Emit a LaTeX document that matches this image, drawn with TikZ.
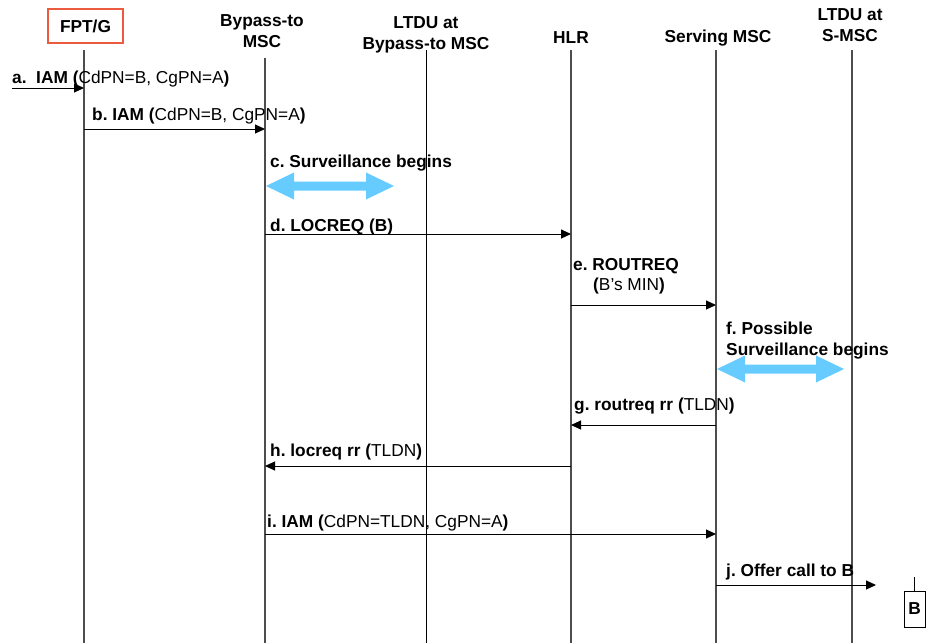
\documentclass[tikz,border=0pt]{standalone}
\usepackage{fontspec}
\setmainfont{Liberation Sans}
\usetikzlibrary{arrows.meta}
\definecolor{lifegray}{HTML}{4D4D4D}
\definecolor{boxred}{HTML}{EC5A40}
\definecolor{survblue}{HTML}{66CCFF}
% wide two-headed arrow marking the start of surveillance: #1 left tip x, #2 right tip x, #3 y
\newcommand\survspan[3]{%
  \fill[survblue] (#1,#3) -- (#1+28,#3-13.5) -- (#1+28,#3-4.5) -- (#2-28,#3-4.5)
    -- (#2-28,#3-13.5) -- (#2,#3) -- (#2-28,#3+13.5) -- (#2-28,#3+4.5)
    -- (#1+28,#3+4.5) -- (#1+28,#3+13.5) -- cycle;}
\frenchspacing
\begin{document}
\begin{tikzpicture}[x=1pt,y=-1pt,
  every node/.style={font=\fontsize{17.3}{21}\selectfont, inner sep=0pt},
  head/.style={font=\fontsize{17.3}{21}\selectfont\bfseries, align=center, anchor=base},
  lifeline/.style={draw=lifegray, line width=1.6pt},
  thinline/.style={draw=black, line width=1pt},
  msg/.style={draw=black, line width=1pt, -{Triangle[length=10pt,width=9pt]}},
  lbl/.style={anchor=base west}]
\useasboundingbox (0,0) rectangle (941,643);

% participants (multi-line heads are placed by the baseline of their last line)
\node[draw=boxred, line width=1.1pt, minimum width=75pt, minimum height=34pt,
      font=\fontsize{17.3}{21}\selectfont\bfseries] (hfpt) at (85.5,26) {FPT/G};
\node[head] (hbyp) at (262,47) {Bypass-to\\MSC};
\node[head] (hltb) at (426,49) {LTDU at\\Bypass-to MSC};
\node[head] (hhlr) at (571,43) {HLR};
\node[head] (hsrv) at (718,42) {Serving MSC};
\node[head] (hlts) at (850,41) {LTDU at\\S-MSC};

% lifelines
\coordinate (fpt) at (84,50);   \coordinate (fptE) at (84,643);
\coordinate (byp) at (265,58);  \coordinate (bypE) at (265,643);
\coordinate (ltb) at (426,50);  \coordinate (ltbE) at (426,643);
\coordinate (hlr) at (571,50);  \coordinate (hlrE) at (571,643);
\coordinate (srv) at (716,50);  \coordinate (srvE) at (716,643);
\coordinate (lts) at (852,50);  \coordinate (ltsE) at (852,643);
\draw[lifeline] (fpt) -- (fptE);
\draw[lifeline] (byp) -- (bypE);
\draw[thinline] (ltb) -- (ltbE);
\draw[lifeline] (hlr) -- (hlrE);
\draw[lifeline] (srv) -- (srvE);
\draw[lifeline] (lts) -- (ltsE);

% a. incoming call
\coordinate (aIn) at (12,88);
\draw[msg] (aIn) -- (fpt |- aIn);
\node[lbl] (la) at (12,83) {\textbf{a.\ \ IAM (}CdPN=B, CgPN=A\textbf{)}};

% b.
\draw[msg] (fpt |- 0,129) -- (byp |- 0,129);
\node[lbl] (lb) at (92,120) {\textbf{b. IAM (}CdPN=B, CgPN=A\textbf{)}};

% c.
\node[lbl] (lc) at (270,167) {\textbf{c. Surveillance begins}};
\survspan{266}{394}{186}

% d.
\draw[msg] (byp |- 0,234) -- (hlr |- 0,234);
\node[lbl] (ld) at (270,231) {\textbf{d. LOCREQ (B)}};

% e.
\node[lbl] (le1) at (573,270) {\textbf{e. ROUTREQ}};
\node[lbl] (le2) at (593,290.5) {\textbf{(}B’s MIN\textbf{)}};
\draw[msg] (hlr |- 0,305) -- (srv |- 0,305);

% f.
\node[lbl] (lf1) at (726,334) {\textbf{f. Possible}};
\node[lbl] (lf2) at (726,355) {\textbf{Surveillance begins}};
\survspan{717}{844}{369}

% g.
\node[lbl] (lg) at (574,410.5) {\textbf{g. routreq rr (}TLDN\textbf{)}};
\draw[msg] (srv |- 0,425) -- (hlr |- 0,425);

% h.
\node[lbl] (lh) at (270,456.5) {\textbf{h. locreq rr (}TLDN\textbf{)}};
\draw[msg] (hlr |- 0,466) -- (byp |- 0,466);

% i.
\node[lbl] (li) at (267,527.5) {\textbf{i. IAM (}CdPN=TLDN, CgPN=A\textbf{)}};
\draw[msg] (byp |- 0,534) -- (srv |- 0,534);

% j.
\node[lbl] (lj) at (726,576.5) {\textbf{j. Offer call to B}};
\coordinate (jOut) at (876,585);
\draw[msg] (srv |- jOut) -- (jOut);

% subscriber B
\node[draw=black, line width=1pt, minimum width=21pt, minimum height=36pt,
      font=\fontsize{17.3}{21}\selectfont\bfseries] (phone) at (914.5,609) {B};
\draw[black, line width=1pt] (phone.north) -- ++(0,-14);
\end{tikzpicture}
\end{document}
